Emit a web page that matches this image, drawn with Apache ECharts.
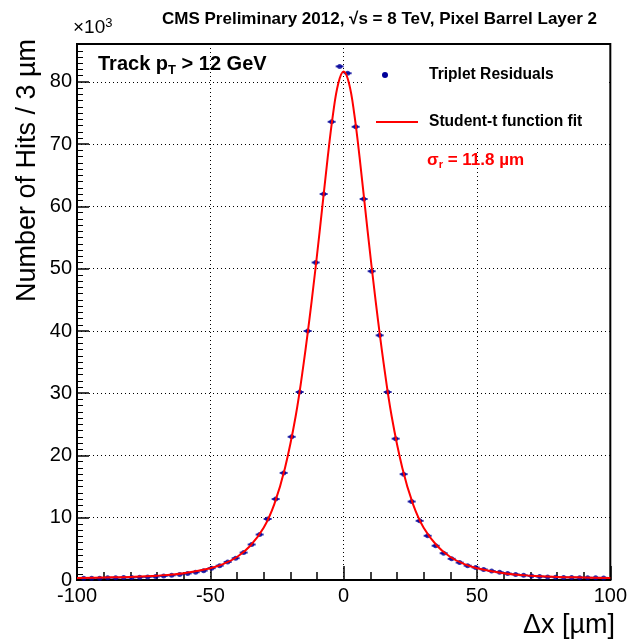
<!DOCTYPE html>
<html>
<head>
<meta charset="utf-8">
<script src="https://cdn.jsdelivr.net/npm/echarts@6/dist/echarts.min.js"></script>
<style>html,body{margin:0;padding:0;background:#fff}#c{width:630px;height:640px}</style>
</head>
<body>
<div id="c"></div>
<script>
// Bin centers (µm), 3 µm bins
const binCenters = [-97.5,-94.5,-91.5,-88.5,-85.5,-82.5,-79.5,-76.5,-73.5,-70.5,-67.5,-64.5,-61.5,-58.5,-55.5,-52.5,-49.5,-46.5,-43.5,-40.5,-37.5,-34.5,-31.5,-28.5,-25.5,-22.5,-19.5,-16.5,-13.5,-10.5,-7.5,-4.5,-1.5,1.5,4.5,7.5,10.5,13.5,16.5,19.5,22.5,25.5,28.5,31.5,34.5,37.5,40.5,43.5,46.5,49.5,52.5,55.5,58.5,61.5,64.5,67.5,70.5,73.5,76.5,79.5,82.5,85.5,88.5,91.5,94.5,97.5];
// Hits per bin (x10^3)
const hits = [0.3,0.3,0.3,0.35,0.35,0.4,0.4,0.45,0.5,0.55,0.65,0.75,0.9,1.05,1.25,1.5,1.9,2.3,2.9,3.5,4.4,5.7,7.3,9.8,13.0,17.2,23.0,30.2,40.0,51.0,62.0,73.6,82.5,81.4,72.8,61.2,49.6,39.3,30.2,22.7,17.0,12.6,9.5,7.1,5.5,4.3,3.4,2.8,2.3,2.0,1.7,1.45,1.25,1.05,0.9,0.75,0.65,0.55,0.5,0.45,0.42,0.4,0.38,0.36,0.35,0.34];
// Student-t fit curve (x10^3)
const fitX = [-100,-90,-80,-70,-60,-50,-45,-40,-35,-30,-26,-22,-18,-15,-12,-9,-6,-4,-2,0,2,4,6,9,12,15,18,22,26,30,35,40,45,50,60,70,80,90,100];
const fitY = [0.32,0.4,0.5,0.7,1.1,1.9,2.6,3.7,5.5,8.4,12.2,18.0,26.3,34.8,44.8,56.0,67.8,74.8,79.8,81.7,79.8,74.8,67.8,56.0,44.8,34.8,26.3,18.0,12.2,8.4,5.5,3.7,2.6,1.9,1.1,0.7,0.5,0.4,0.32];
const xTicks = [-100,-50,0,50,100];
const yTicks = [0,10,20,30,40,50,60,70,80];

const FONT = 'Liberation Sans, Arial, Helvetica, sans-serif';
const BLUE = '#000099';
const RED = '#ff0000';

const chart = echarts.init(document.getElementById('c'), null, {renderer: 'canvas'});
const pts = binCenters.map((x, i) => [x, hits[i]]);
const fit = fitX.map((x, i) => [x, fitY[i]]);

chart.setOption({
  animation: false,
  backgroundColor: '#fff',
  grid: {left: 77, right: 15, top: 44, bottom: 60, show: true, borderColor: '#000', borderWidth: 2, backgroundColor: 'transparent'},
  xAxis: {
    type: 'value', min: xTicks[0], max: xTicks[xTicks.length - 1], interval: 50,
    axisLine: {show: true, onZero: false, lineStyle: {color: '#000', width: 2}},
    axisTick: {show: true, inside: true, length: 14, lineStyle: {color: '#000', width: 1.5}},
    minorTick: {show: true, splitNumber: 5, length: 8, lineStyle: {color: '#000', width: 1.5}},
    axisLabel: {color: '#000', fontSize: 20, fontFamily: FONT, margin: 6},
    splitLine: {show: true, lineStyle: {color: '#000', type: [1, 3], width: 1}}
  },
  yAxis: {
    type: 'value', min: yTicks[0], max: 86.1, interval: 10,
    axisLine: {show: true, onZero: false, lineStyle: {color: '#000', width: 2}},
    axisTick: {show: true, inside: true, length: 12, lineStyle: {color: '#000', width: 1.5}},
    minorTick: {show: true, splitNumber: 10, length: 6, lineStyle: {color: '#000', width: 1}},
    axisLabel: {color: '#000', fontSize: 20, fontFamily: FONT, margin: 5,
      formatter: v => (yTicks.indexOf(v) >= 0 ? String(v) : '')},
    splitLine: {show: true, lineStyle: {color: '#000', type: [1, 3], width: 1}}
  },
  series: [
    {type: 'scatter', data: pts, symbol: 'rect', symbolSize: [8, 2], itemStyle: {color: BLUE}, z: 3},
    {type: 'scatter', data: pts, symbol: 'circle', symbolSize: 5, itemStyle: {color: BLUE}, z: 3},
    {type: 'line', data: fit, smooth: 0.4, showSymbol: false, lineStyle: {color: RED, width: 2}, z: 4}
  ],
  graphic: [
    {type: 'rect', z: 50, shape: {x: 363, y: 46, width: 245, height: 96}, style: {fill: '#fff'}},
    {type: 'text', z: 60, x: 162, y: 19, style: {text: 'CMS Preliminary 2012, √s = 8 TeV, Pixel Barrel Layer 2', font: 'bold 17px ' + FONT, fill: '#000', verticalAlign: 'middle'}},
    {type: 'text', z: 60, x: 73, y: 28, style: {text: '×10{s|3}', font: '19px ' + FONT, fill: '#000', verticalAlign: 'middle', rich: {s: {fontSize: 13, fontFamily: FONT, verticalAlign: 'top', padding: [0, 0, 10, 0]}}}},
    {type: 'text', z: 60, x: 98, y: 64, style: {text: 'Track p{s|T} > 12 GeV', font: 'bold 20px ' + FONT, fill: '#000', verticalAlign: 'middle', rich: {s: {fontSize: 13, fontWeight: 'bold', fontFamily: FONT, padding: [12, 0, 0, 0]}}}},
    {type: 'circle', z: 60, shape: {cx: 385, cy: 75, r: 3}, style: {fill: BLUE}},
    {type: 'text', z: 60, x: 429, y: 75, style: {text: 'Triplet Residuals', font: 'bold 15.6px ' + FONT, fill: '#000', verticalAlign: 'middle'}},
    {type: 'line', z: 60, shape: {x1: 376, y1: 122, x2: 418, y2: 122}, style: {stroke: RED, lineWidth: 2}},
    {type: 'text', z: 60, x: 429, y: 122, style: {text: 'Student-t function fit', font: 'bold 15.6px ' + FONT, fill: '#000', verticalAlign: 'middle'}},
    {type: 'text', z: 60, x: 427, y: 160, style: {text: 'σ{s|r} = 11.8 µm', font: 'bold 17px ' + FONT, fill: RED, verticalAlign: 'middle', rich: {s: {fontSize: 11, fontWeight: 'bold', fill: RED, fontFamily: FONT, padding: [9, 0, 0, 0]}}}},
    {type: 'text', z: 60, x: 28, y: 39, rotation: Math.PI / 2, style: {text: 'Number of Hits / 3 µm', font: '27px ' + FONT, fill: '#000', align: 'right', verticalAlign: 'middle'}},
    {type: 'text', z: 60, x: 615, y: 626, style: {text: 'Δx [µm]', font: '27px ' + FONT, fill: '#000', align: 'right', verticalAlign: 'middle'}}
  ]
});
</script>
</body>
</html>
